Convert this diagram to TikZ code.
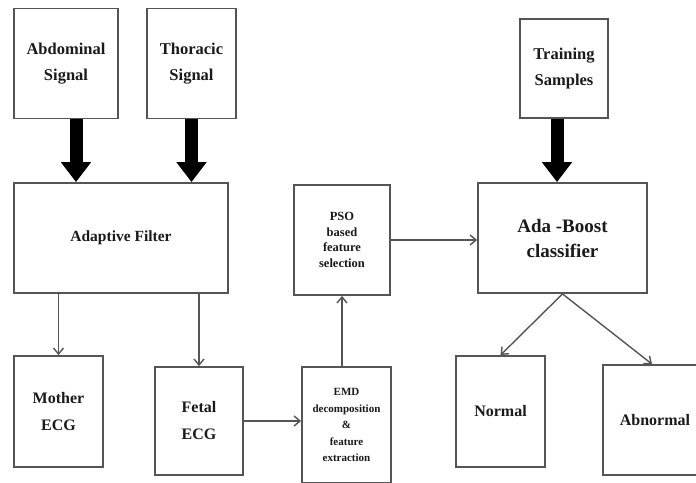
\documentclass[tikz,border=0pt]{standalone}
\usepackage{fontspec}
\setmainfont{Liberation Serif}
\usetikzlibrary{arrows.meta}
\definecolor{boxgray}{HTML}{555555}
\definecolor{txt}{HTML}{1A1A1A}
\begin{document}
\begin{tikzpicture}[x=1pt,y=-1pt,
  blk/.style={draw=boxgray, line width=1.8pt, fill=white, text=txt, align=center, inner sep=0pt},
  thinarrow/.style={draw=boxgray, line width=1.4pt, -{Straight Barb[length=6pt,width=10pt,line width=1.4pt]}},
  bigarrow/.style={draw=black, line width=13pt, -{Triangle[length=20pt,width=29pt]}},
  inlbl/.style={font=\bfseries\fontsize{16.5}{26}\selectfont},
  outlbl/.style={font=\bfseries\fontsize{16}{27}\selectfont}]
\useasboundingbox (0,0) rectangle (696,482);
\fill[white] (0,0) rectangle (696,482);

\node[blk, inlbl, minimum width=104pt, minimum height=110pt] (abd) at (66,63.5) {Abdominal\\Signal};
\node[blk, inlbl, minimum width=89pt, minimum height=110pt] (thor) at (191.5,63.5) {Thoracic\\Signal};
\node[blk, font=\bfseries\fontsize{15.5}{20}\selectfont, minimum width=214pt, minimum height=110pt] (filt) at (121,238) {Adaptive Filter};
\node[blk, outlbl, minimum width=89pt, minimum height=111pt] (mother) at (58.5,411.5) {Mother\\ECG};
\node[blk, outlbl, minimum width=88pt, minimum height=108pt] (fetal) at (199,421) {Fetal\\ECG};
\node[blk, font=\bfseries\fontsize{11}{16.5}\selectfont, minimum width=89pt, minimum height=116pt] (emd) at (346.5,425) {EMD\\decomposition\\\&\\feature\\extraction};
\node[blk, font=\bfseries\fontsize{12.5}{15.5}\selectfont, minimum width=96pt, minimum height=110pt] (pso) at (342,240) {PSO\\based\\feature\\selection};
\node[blk, inlbl, minimum width=88pt, minimum height=99pt] (train) at (564,68.5) {Training\\Samples};
\node[blk, font=\bfseries\fontsize{19}{25}\selectfont, minimum width=169pt, minimum height=110pt] (ada) at (562.5,238) {Ada -Boost\\classifier};
\node[blk, outlbl, minimum width=89pt, minimum height=111pt] (normal) at (500.5,411.5) {Normal};
\node[blk, outlbl, minimum width=104pt, minimum height=110pt] (abn) at (655,420) {Abnormal};

\draw[bigarrow] ([xshift=10pt]abd.south) -- ([xshift=10pt]abd.south |- filt.north);
\draw[bigarrow] (thor.south) -- (thor.south |- filt.north);
\draw[bigarrow] ([xshift=-7pt]train.south) -- ([xshift=-7pt]train.south |- ada.north);

\draw[thinarrow] (mother.north |- filt.south) -- (mother.north);
\draw[thinarrow] (fetal.north |- filt.south) -- (fetal.north);
\draw[thinarrow] (fetal.east) -- (fetal.east -| emd.west);
\draw[thinarrow] (pso.south |- emd.north) -- (pso.south);
\draw[thinarrow] (pso.east) -- (pso.east -| ada.west);
\draw[thinarrow] (ada.south) -- (normal.north);
\draw[thinarrow] (ada.south) -- ([xshift=-3pt]abn.north);
\end{tikzpicture}
\end{document}
